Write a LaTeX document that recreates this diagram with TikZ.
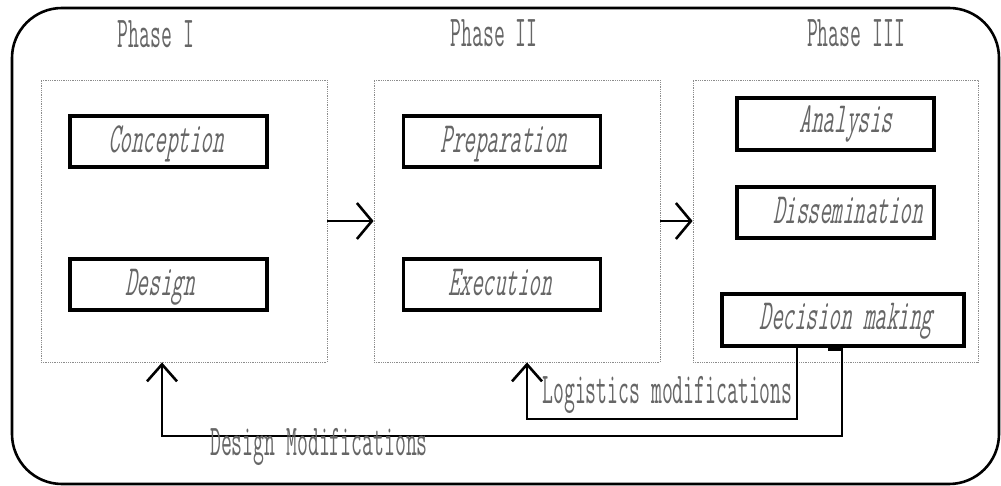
\documentclass[tikz,border=0pt]{standalone}
\usepackage{fontspec}
\usetikzlibrary{arrows.meta}
\newfontfamily\upf[FakeStretch=0.48]{Latin Modern Mono}
\newfontfamily\itf[FakeStretch=0.52,FakeSlant=0.18]{Latin Modern Mono}
\begin{document}
\begin{tikzpicture}[x=1pt,y=-1pt,
  phasebox/.style={draw=black!45,densely dotted,line width=0.8pt,inner sep=0pt},
  taskbox/.style={draw=black,line width=3.8pt,fill=white,inner sep=0pt,
                  minimum width=197pt,minimum height=51pt},
  uptext/.style={inner sep=0pt,anchor=base,text=black!60,
                 font=\fontsize{44}{44}\upf},
  ittext/.style={inner sep=0pt,anchor=base,text=black!60,
                 font=\fontsize{43}{43}\itf},
  flow/.style={line width=2.6pt,-{Straight Barb[length=15pt,width=36pt]}},
  fb/.style={line width=2.6pt,-{Straight Barb[length=17pt,width=30pt]}}]
\useasboundingbox (0,0) rectangle (1001,486);

% outer frame
\draw[line width=2.6pt,rounded corners=50pt] (12,8) rectangle (999,484);

% phase containers
\node[phasebox,minimum width=286pt,minimum height=282pt] (p1) at (184,221) {};
\node[phasebox,minimum width=286pt,minimum height=282pt] (p2) at (517,221) {};
\node[phasebox,minimum width=285pt,minimum height=282pt] (p3) at (835.5,221) {};

% phase titles
\node[uptext] (t1) at (156,48) {Phase I};
\node[uptext] (t2) at (494,47) {Phase II};
\node[uptext] (t3) at (856,47) {Phase III};

% tasks of phase I
\node[taskbox] (con) at (168.5,141.5) {};
\node[ittext] (conl) at (166,153) {Conception};
\node[taskbox] (des) at (168.5,284.5) {};
\node[ittext] (desl) at (160,296) {Design};

% tasks of phase II
\node[taskbox] (pre) at (502,141.5) {};
\node[ittext] (prel) at (504,153) {Preparation};
\node[taskbox] (exe) at (502,284.5) {};
\node[ittext] (exel) at (500,296) {Execution};

% tasks of phase III
\node[taskbox,minimum height=52pt] (ana) at (835.5,124) {};
\node[ittext] (anal) at (846,133) {Analysis};
\node[taskbox] (dis) at (835.5,212.5) {};
\node[ittext] (disl) at (848,224) {Dissemination};
\node[taskbox,minimum width=242pt,minimum height=52pt] (dec) at (843,320) {};
\node[ittext] (decl) at (846,330) {Decision making};

% forward flow between phases
\draw[flow] (p1) -- (p2);
\draw[flow] (p2) -- (p3);

% feedback loops
\coordinate (lg) at (527,419);
\coordinate (dm) at (162,436);
\draw[fb,line join=miter] ([xshift=77pt]dec.south west) |- (lg) -- (lg |- p2.south);
\draw[fb,line join=miter] ([xshift=108pt,yshift=-1.5pt]dec.south west)
  -- ([xshift=122pt,yshift=-1.5pt]dec.south west) |- (dm) -- (dm |- p1.south);

% feedback labels
\node[uptext] (lgl) at (667.5,403) {Logistics modifications};
\node[uptext] (dml) at (319,455) {Design Modifications};
\end{tikzpicture}
\end{document}
